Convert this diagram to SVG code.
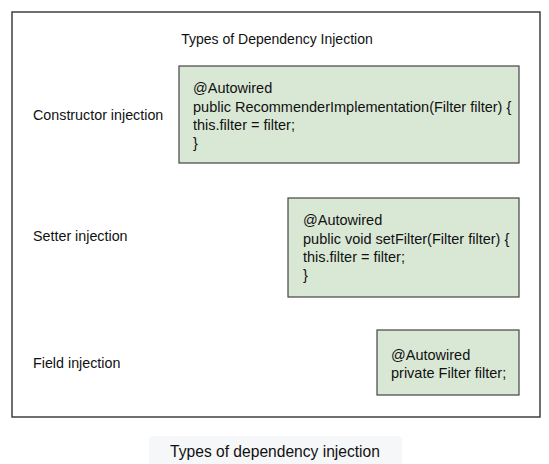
<svg xmlns="http://www.w3.org/2000/svg" width="549" height="464" viewBox="0 0 549 464">
<style>
.t{font-family:"Liberation Sans",Arial,sans-serif;font-size:14px;fill:#111;}
.c{font-size:14.5px;}
.l{font-size:14.3px;}
.box{fill:#d9e8d5;stroke:#444;stroke-width:1.2;}
</style>
<rect width="549" height="464" fill="#fff"/>
<g id="frame">
<rect x="12" y="12" width="528" height="405" fill="none" stroke="#333" stroke-width="1.4"/>
<text class="t" x="277" y="44" text-anchor="middle">Types of Dependency Injection</text>
</g>
<g id="labels">
<text class="t l" x="33" y="120">Constructor injection</text>
<text class="t l" x="33" y="241">Setter injection</text>
<text class="t l" x="33" y="368">Field injection</text>
</g>
<g id="constructor">
<rect class="box" x="179" y="66" width="340" height="97"/>
<text class="t c" x="193" y="93">@Autowired</text>
<text class="t c" x="193" y="112">public RecommenderImplementation(Filter filter) {</text>
<text class="t c" x="193" y="130">this.filter = filter;</text>
<text class="t c" x="193" y="148">}</text>
</g>
<g id="setter">
<rect class="box" x="288" y="198" width="231" height="99"/>
<text class="t c" x="303" y="225">@Autowired</text>
<text class="t c" x="303" y="244">public void setFilter(Filter filter) {</text>
<text class="t c" x="303" y="262">this.filter = filter;</text>
<text class="t c" x="303" y="280">}</text>
</g>
<g id="field">
<rect class="box" x="377" y="330" width="142" height="65"/>
<text class="t c" x="391" y="360">@Autowired</text>
<text class="t c" x="391" y="378">private Filter filter;</text>
</g>
<g id="caption">
<rect x="149" y="436" width="253" height="30" rx="4" fill="#f6f7f8"/>
<text class="t" x="275" y="457" text-anchor="middle" style="font-size:15.6px">Types of dependency injection</text>
</g>
<g id="connectors"/>
</svg>
